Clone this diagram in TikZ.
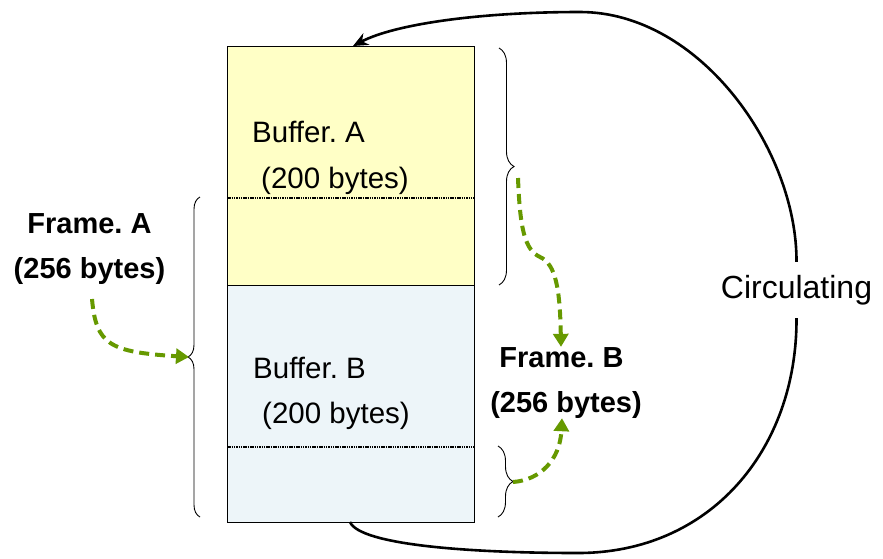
\documentclass[tikz,border=0pt]{standalone}
\usepackage{fontspec}
\setmainfont{Liberation Sans}
\frenchspacing
\usetikzlibrary{arrows.meta,decorations.pathreplacing}
\definecolor{bufyellow}{RGB}{255,255,198}
\definecolor{bufblue}{RGB}{237,245,249}
\definecolor{flowgreen}{RGB}{102,153,0}
\begin{document}
\begin{tikzpicture}[x=1pt,y=-1pt,
  region/.style={draw=black, line width=1pt, inner sep=0pt, minimum width=247pt, anchor=north west},
  txt/.style={inner sep=0pt, anchor=base west, font=\fontsize{29.5}{35}\selectfont},
  boldtxt/.style={inner sep=0pt, anchor=base, font=\fontsize{29}{35}\selectfont\bfseries},
  bracket/.style={decorate, decoration={brace, amplitude=#1}, line width=0.9pt},
  divider/.style={line width=1.4pt, dash pattern=on 1.5pt off 0.8pt},
  flow/.style={draw=flowgreen, line width=4pt, dash pattern=on 10pt off 6pt,
    -{Triangle[length=13pt,width=15pt]}},
  loop/.style={line width=2.6pt}
]
\useasboundingbox (0,0) rectangle (883,558);

% the two buffer regions
\node[region, fill=bufyellow, minimum height=239pt] (bufA) at (227,46) {};
\node[region, fill=bufblue, minimum height=237pt] (bufB) at (227,285) {};
\draw[divider] (227,198) -- (474,198);
\draw[divider] (227,447) -- (474,447);

% buffer captions
\node[txt] (bufAname) at (252,142) {Buffer. A};
\node[txt] (bufAsize) at (261,188) {(200 bytes)};
\node[txt] (bufBname) at (253,378) {Buffer. B};
\node[txt] (bufBsize) at (262,423) {(200 bytes)};

% frame captions
\node[boldtxt] (frAname) at (89.5,233) {Frame. A};
\node[boldtxt] (frAsize) at (89.5,278) {(256 bytes)};
\node[boldtxt] (frBname) at (561.5,367) {Frame. B};
\node[boldtxt] (frBsize) at (566,412) {(256 bytes)};

% braces
\draw[bracket=15pt] (499,48) -- (499,285);
\draw[bracket=15pt] (498,446) -- (498,517);
\draw[bracket=12pt] (200,517) -- (200,197);
\coordinate (tipA) at (518,178);
\coordinate (tipB) at (513,482);
\coordinate (tipL) at (189,357);
\coordinate (frAstart) at (92,299);

% green flow arrows
\draw[flow] (frAstart) .. controls (96,345) and (110,352) .. (tipL);
\draw[flow] (tipA) .. controls (520,230) and (525,250) .. (540,257)
  .. controls (556,264) and (560,290) .. (frBname.north -| 561,0);
\draw[flow] (tipB) .. controls (540,480) and (560,460) .. (frBsize.south -| 562,0);

% circulation loop
\node[inner sep=0pt, minimum height=56pt, font=\fontsize{32}{38}\selectfont] (circ) at (796.5,290) {Circulating};
\coordinate (loopStart) at (350,522);
\coordinate (loopEnd) at (353,46);
\draw[loop] (loopStart) .. controls (360,545) and (470,553) .. (578,553)
  .. controls (710,553) and (797,450) .. (circ.south);
\draw[loop, -{Stealth[length=15pt,width=13pt]}] (circ.north) .. controls (797,150) and (700,12) .. (580,12)
  .. controls (480,12) and (395,24) .. (loopEnd);
\end{tikzpicture}
\end{document}
